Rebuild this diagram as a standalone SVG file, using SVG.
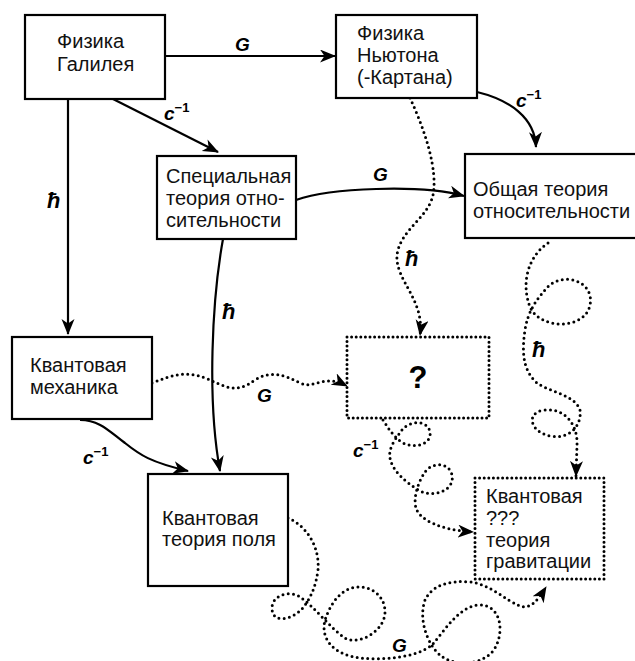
<svg xmlns="http://www.w3.org/2000/svg" width="635" height="661" viewBox="0 0 635 661">
<style>
.box{fill:#fff;stroke:#000;stroke-width:2.2}
.dbox{fill:#fff;stroke:#000;stroke-width:3;stroke-dasharray:0 4.6;stroke-linecap:round}
.t{font-family:"Liberation Sans",Arial,sans-serif;font-size:20px;fill:#111}
.lab{font-family:"Liberation Sans",Arial,sans-serif;font-size:19px;font-weight:bold;font-style:italic;fill:#000}
.hb{font-size:22px}
.sup{font-size:13px;font-style:normal}
.sol{fill:none;stroke:#000;stroke-width:2.2}
.dot{fill:none;stroke:#000;stroke-width:3;stroke-dasharray:0 5.3;stroke-linecap:round}
</style>
<defs>
<marker id="ah" markerUnits="userSpaceOnUse" markerWidth="18" markerHeight="14" refX="15" refY="6.5" orient="auto">
<path d="M0,0 L16,6.5 L0,13 L4.5,6.5 Z" fill="#000"/>
</marker>
</defs>

<g id="connectors">
<path class="sol" d="M165,56 L335,56" marker-end="url(#ah)"/>
<path class="sol" d="M113,99 L218,152" marker-end="url(#ah)"/>
<path class="sol" d="M68,99 L68,334" marker-end="url(#ah)"/>
<path class="sol" d="M296,200 C330,188 420,184 464,196" marker-end="url(#ah)"/>
<path class="sol" d="M477,92 C510,100 535,118 536,147" marker-end="url(#ah)"/>
<path class="sol" d="M223,239 C212,300 207,400 220,471" marker-end="url(#ah)"/>
<path class="sol" d="M80,420 C100,420 110,432 125,443 C140,455 150,462 188,471" marker-end="url(#ah)"/>

<path class="dot" d="M152,383 C170,376 185,370 205,378 C225,386 235,395 255,380 C270,370 285,375 300,383 C315,390 322,373 347,386" marker-end="url(#ah)"/>
<path class="dot" d="M410,98 C425,130 438,170 433,195 C428,218 400,230 397,255 C395,280 425,300 420,335" marker-end="url(#ah)"/>
<path class="dot" d="M548,243 C530,255 520,280 530,307 C540,330 585,330 590,305 C595,280 560,270 545,290 C538,298 528,310 525,330 C522,350 522,370 537,383 C550,392 575,395 580,410 C582,425 570,440 550,436 C530,432 525,412 545,410 C565,408 578,425 577,445 L576,476" marker-end="url(#ah)"/>
<path class="dot" d="M383,420 C388,428 392,434 400,441 C412,450 432,445 430,432 C428,420 410,420 402,430 C396,438 388,448 390,458 C392,470 405,482 420,491 C435,498 455,490 452,475 C449,462 432,462 425,472 C418,482 413,498 416,508 C420,520 440,530 473,532" marker-end="url(#ah)"/>
<path class="dot" d="M288,518 C305,525 320,545 318,570 C316,585 312,595 305,605 C295,620 272,625 272,608 C272,595 290,590 300,597 C315,607 330,628 345,638 C360,646 385,630 385,612 C385,595 370,586 358,587 C340,588 330,605 325,620 C320,640 335,655 360,658 C385,660 415,658 432,645 C445,630 460,605 480,605 C500,605 505,630 495,648 C485,665 455,668 440,655 C428,645 418,620 425,600 C432,585 450,580 470,582 C490,584 505,600 520,606 C530,610 538,600 546,587" marker-end="url(#ah)"/>
</g>

<g id="labels">
<text class="lab" x="235" y="51">G</text>
<text class="lab" x="164" y="120">c<tspan class="sup" dy="-8">−1</tspan></text>
<text class="lab hb" x="47" y="208">ħ</text>
<text class="lab" x="373" y="181">G</text>
<text class="lab" x="516" y="107">c<tspan class="sup" dy="-8">−1</tspan></text>
<text class="lab hb" x="222" y="319">ħ</text>
<text class="lab hb" x="405" y="266">ħ</text>
<text class="lab" x="257" y="402">G</text>
<text class="lab" x="83" y="464">c<tspan class="sup" dy="-8">−1</tspan></text>
<text class="lab hb" x="532" y="357">ħ</text>
<text class="lab" x="353" y="457">c<tspan class="sup" dy="-8">−1</tspan></text>
<text class="lab" x="392" y="652">G</text>
</g>

<g id="galileo">
<rect class="box" x="25" y="15" width="140" height="84"/>
<text class="t" x="57" y="48">Физика</text>
<text class="t" x="57" y="71">Галилея</text>
</g>
<g id="newton">
<rect class="box" x="336" y="15" width="141" height="83"/>
<text class="t" x="357" y="40">Физика</text>
<text class="t" x="357" y="62">Ньютона</text>
<text class="t" x="357" y="84">(-Картана)</text>
</g>
<g id="sr">
<rect class="box" x="157" y="156" width="139" height="83"/>
<text class="t" x="166" y="183">Специальная</text>
<text class="t" x="166" y="205">теория отно-</text>
<text class="t" x="166" y="227">сительности</text>
</g>
<g id="gr">
<rect class="box" x="465" y="154" width="190" height="84"/>
<text class="t" x="473" y="196">Общая теория</text>
<text class="t" x="473" y="218">относительности</text>
</g>
<g id="qm">
<rect class="box" x="12" y="337" width="140" height="82"/>
<text class="t" x="30" y="372">Квантовая</text>
<text class="t" x="30" y="394">механика</text>
</g>
<g id="unknown">
<rect class="dbox" x="347" y="337" width="142" height="81"/>
<text x="418" y="388" text-anchor="middle" style="font-family:'Liberation Sans',Arial,sans-serif;font-size:31px;font-weight:bold">?</text>
</g>
<g id="qft">
<rect class="box" x="148" y="474" width="140" height="112"/>
<text class="t" x="162" y="525">Квантовая</text>
<text class="t" x="162" y="546">теория поля</text>
</g>
<g id="qg">
<rect class="dbox" x="475" y="478" width="129" height="101"/>
<text class="t" x="486" y="503">Квантовая</text>
<text class="t" x="486" y="525">???</text>
<text class="t" x="486" y="547">теория</text>
<text class="t" x="486" y="568">гравитации</text>
</g>
</svg>
